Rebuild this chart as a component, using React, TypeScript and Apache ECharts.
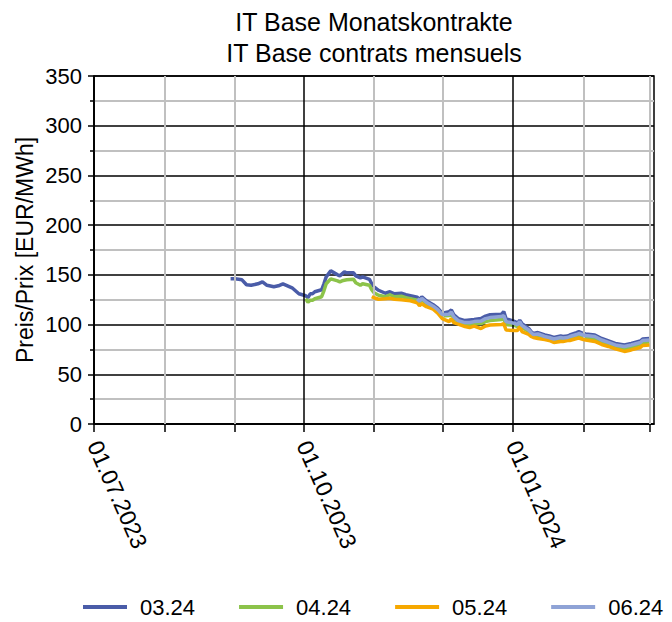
import React, { useEffect, useRef } from "react";
import * as echarts from "echarts";

// Trading dates (common axis for all contracts)
const dates = [
  "2023-08-30", "2023-09-01", "2023-09-04", "2023-09-06", "2023-09-08", "2023-09-11", "2023-09-13",
  "2023-09-15", "2023-09-18", "2023-09-20", "2023-09-22", "2023-09-26", "2023-09-28", "2023-09-29",
  "2023-10-02", "2023-10-03", "2023-10-04", "2023-10-05", "2023-10-06", "2023-10-09", "2023-10-10",
  "2023-10-11", "2023-10-13", "2023-10-16", "2023-10-17", "2023-10-18", "2023-10-19", "2023-10-20",
  "2023-10-23", "2023-10-24", "2023-10-26", "2023-10-27", "2023-10-30", "2023-10-31", "2023-11-01",
  "2023-11-03", "2023-11-06", "2023-11-08", "2023-11-10", "2023-11-13", "2023-11-15", "2023-11-17",
  "2023-11-20", "2023-11-21", "2023-11-22", "2023-11-24", "2023-11-27", "2023-11-29", "2023-12-01",
  "2023-12-04", "2023-12-05", "2023-12-06", "2023-12-08", "2023-12-11", "2023-12-13", "2023-12-15",
  "2023-12-18", "2023-12-20", "2023-12-22", "2023-12-27", "2023-12-28", "2023-12-29", "2024-01-02",
  "2024-01-03", "2024-01-04", "2024-01-05", "2024-01-08", "2024-01-09", "2024-01-10", "2024-01-12",
  "2024-01-15", "2024-01-17", "2024-01-19", "2024-01-22", "2024-01-23", "2024-01-25", "2024-01-26",
  "2024-01-29", "2024-01-30", "2024-02-01", "2024-02-02", "2024-02-06", "2024-02-09", "2024-02-12",
  "2024-02-15", "2024-02-19", "2024-02-20", "2024-02-22", "2024-02-26", "2024-02-27", "2024-03-01",
];

const c0324 = [
  146, 146, 145, 140, 139.5, 141, 143,
  139.5, 138, 139, 141, 137, 133, 131,
  129, 127, 131, 131, 133, 135, 141,
  148, 154, 150, 149, 151, 153, 152,
  152, 149, 147, 148, 145.5, 141, 138,
  134.5, 131.5, 133, 131, 131.5, 130, 129,
  127.5, 125, 128, 124, 120, 116.5, 111.5,
  113, 114.7, 110, 106, 104, 104.5, 105,
  106, 108.5, 110, 110.5, 113, 106, 103,
  101, 104.5, 101, 96, 93, 91, 92,
  89.5, 88.5, 87, 88.5, 88, 88.5, 89.5,
  92, 93, 91, 90.5, 89.5, 86, 83.5,
  81, 79.5, 80, 81, 83.5, 85.5, 86,
];

const c0424 = [
  null, null, null, null, null, null, null,
  null, null, null, null, null, null, null,
  126, 122.5, 124.5, 124.5, 126, 128, 134,
  141, 146, 144, 143, 144, 144.5, 145,
  145.5, 142, 139.5, 141, 139.5, 135, 132,
  129.5, 128, 130, 128, 128.5, 127, 126,
  124.5, 122, 125, 121, 117, 113.5, 108.5,
  109, 111, 106, 103, 100.5, 100, 101,
  101, 103, 104, 105, 106, 100, 99,
  98, 101, 97, 93, 90, 88, 89,
  87, 86, 84, 85, 85, 86, 87,
  88.5, 89, 87.5, 87, 85.5, 82.5, 80,
  77.5, 75.5, 76, 77, 80, 82, 82.5,
];

const c0524 = [
  null, null, null, null, null, null, null,
  null, null, null, null, null, null, null,
  null, null, null, null, null, null, null,
  null, null, null, null, null, null, null,
  null, null, null, null, null, 128, 127,
  125.5, 126, 126.5, 125.5, 125, 124.5, 124,
  122, 119, 121, 118, 115.5, 111.5, 106,
  103, 106, 102, 100.5, 98, 97, 98.5,
  96, 98.5, 99.5, 100, 101, 94.5, 94,
  94, 98, 93, 90, 88, 87, 86,
  85, 84, 82, 83, 83, 84, 84,
  86, 86.5, 85, 84.5, 83, 80, 78,
  75.5, 73, 73.5, 74.5, 77, 79, 79.5,
];

const c0624 = [
  null, null, null, null, null, null, null,
  null, null, null, null, null, null, null,
  null, null, null, null, null, null, null,
  null, null, null, null, null, null, null,
  null, null, null, null, null, null, null,
  null, null, null, null, null, null, null,
  126, 123.5, 126.5, 122.5, 118.5, 115, 110,
  110.5, 112.5, 108, 104, 102, 102, 103,
  103.5, 106, 107, 108, 109, 103, 101,
  100, 103, 99, 94.5, 92, 90, 90.5,
  88, 87, 85.5, 87, 86.5, 87, 88,
  90, 91, 89.5, 89, 88, 84.5, 82,
  79.5, 78, 78.5, 79.5, 82, 84, 84.5,
];

const seriesNames = ["03.24", "04.24", "05.24", "06.24"];
const seriesColors = ["#4a5ca8", "#8cc34a", "#f6a800", "#8fa3d6"];

const monthLines = [
  "2023-07-01", "2023-08-01", "2023-09-01", "2023-10-01", "2023-11-01",
  "2023-12-01", "2024-01-01", "2024-02-01", "2024-03-01",
];
const quarterLabels = ["2023-07-01", "2023-10-01", "2024-01-01"];
const xMin = "2023-07-01";
const xMax = "2024-03-03";

const titleLines = ["IT Base Monatskontrakte", "IT Base contrats mensuels"];
const yName = "Preis/Prix [EUR/MWh]";

const ts = (s: string) => {
  const [y, m, d] = s.split("-").map(Number);
  return Date.UTC(y, m - 1, d);
};
const pad = (n: number) => (n < 10 ? "0" + n : "" + n);
const fmtDate = (v: number) => {
  const d = new Date(v);
  return pad(d.getUTCDate()) + "." + pad(d.getUTCMonth() + 1) + "." + d.getUTCFullYear();
};

const FONT = "'Liberation Sans', Arial, Helvetica, sans-serif";

export default function App() {
  const ref = useRef<HTMLDivElement>(null);

  useEffect(() => {
    if (!ref.current) return;
    const chart = echarts.init(ref.current, undefined, { renderer: "svg" });
    const allSeries = [c0324, c0424, c0524, c0624];
    const quarterSet = new Set(quarterLabels.map(ts));

    const option: any = {
      animation: false,
      backgroundColor: "#ffffff",
      textStyle: { fontFamily: FONT, color: "#000" },
      graphic: [
        {
          type: "text",
          x: 374,
          y: 6,
          style: {
            text: titleLines.join("\n"),
            fill: "#000",
            font: `25px ${FONT}`,
            textAlign: "center",
            textVerticalAlign: "top",
            lineHeight: 31,
          },
        },
      ],
      grid: {
        left: 94,
        right: 18,
        top: 76,
        bottom: 198,
        show: true,
        borderColor: "#000",
        borderWidth: 1.5,
        backgroundColor: "transparent",
      },
      legend: {
        data: seriesNames,
        left: 83,
        top: 596,
        icon: "rect",
        itemWidth: 44,
        itemHeight: 4,
        itemGap: 44,
        padding: 0,
        textStyle: { fontSize: 22, color: "#000", fontFamily: FONT, padding: [0, 0, 0, 8] },
      },
      xAxis: {
        type: "value",
        min: ts(xMin),
        max: ts(xMax),
        axisLine: { show: true, lineStyle: { color: "#000", width: 1.5 } },
        splitLine: { show: false },
        axisTick: {
          show: true,
          customValues: monthLines.map(ts),
          length: 8,
          lineStyle: { color: "#000", width: 1.5 },
        },
        axisLabel: {
          customValues: quarterLabels.map(ts),
          formatter: (v: number) => fmtDate(v),
          rotate: -66,
          fontSize: 23,
          color: "#000",
          margin: 18,
          fontFamily: FONT,
        },
      },
      yAxis: {
        type: "value",
        min: 0,
        max: 350,
        interval: 50,
        name: yName,
        nameLocation: "middle",
        nameGap: 58,
        nameMoveOverlap: false,
        nameTextStyle: { fontSize: 23, color: "#000", fontFamily: FONT },
        axisLine: { show: true, lineStyle: { color: "#000", width: 1.5 } },
        axisTick: { show: true, length: 6, lineStyle: { color: "#000", width: 1.5 } },
        minorTick: { show: true, splitNumber: 2, length: 4, lineStyle: { color: "#000", width: 1.5 } },
        splitLine: { show: true, lineStyle: { color: "#000", width: 1.5 } },
        minorSplitLine: { show: true, lineStyle: { color: "#c0c0c0", width: 2 } },
        axisLabel: { fontSize: 22, color: "#000", margin: 12, fontFamily: FONT },
      },
      series: [
        {
          name: "__grid",
          type: "line",
          data: [],
          z: 1,
          silent: true,
          markLine: {
            silent: true,
            symbol: "none",
            label: { show: false },
            emphasis: { disabled: true },
            data: monthLines.map((d) => {
              const t = ts(d);
              const q = quarterSet.has(t);
              return {
                xAxis: t,
                lineStyle: { color: q ? "#000" : "#c0c0c0", width: q ? 1.5 : 2, type: "solid" },
              };
            }),
          },
        },
        ...seriesNames.map((name, si) => ({
          name,
          type: "line",
          z: 3 + si,
          showSymbol: false,
          symbol: "none",
          color: seriesColors[si],
          lineStyle: { color: seriesColors[si], width: 3.5 },
          data: dates
            .map((d, i) => [ts(d), allSeries[si][i]])
            .filter((p) => p[1] !== null && p[1] !== undefined),
        })),
      ],
    };

    chart.setOption(option);
    return () => chart.dispose();
  }, []);

  return (
    <div
      ref={ref}
      style={{ position: "fixed", left: 0, top: 0, width: 672, height: 622 }}
    />
  );
}
